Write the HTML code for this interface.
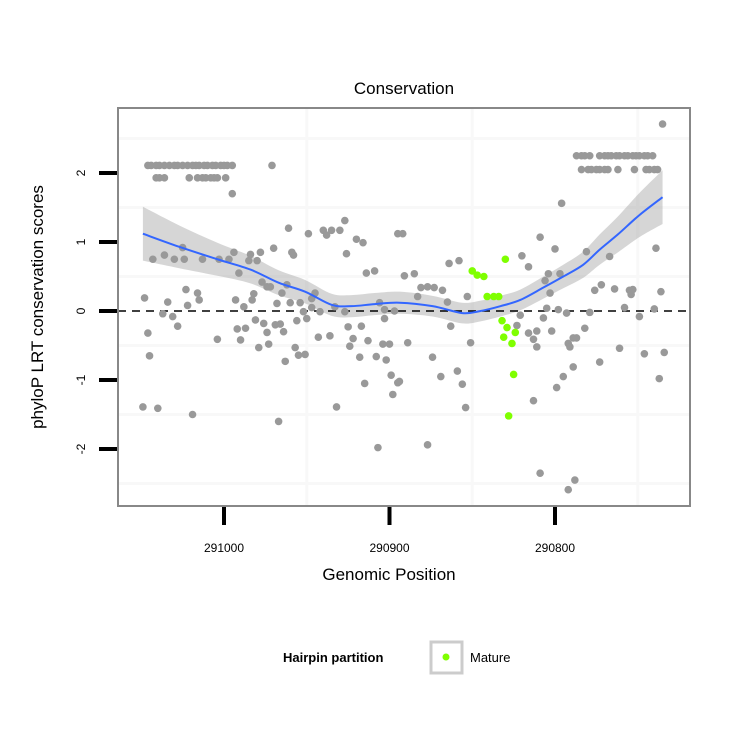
<!DOCTYPE html>
<html><head><meta charset="utf-8"><style>
body{margin:0;background:#fff;}
svg text{font-family:"Liberation Sans",sans-serif;}
</style></head><body>
<svg id="chart" width="750" height="750" viewBox="0 0 750 750" xmlns="http://www.w3.org/2000/svg">
<rect width="750" height="750" fill="#fff"/>
<text x="404" y="94" font-size="17" text-anchor="middle">Conservation</text>
<g id="grid"></g>
<g id="band"></g>
<line x1="118" y1="311" x2="690" y2="311" stroke="#000" stroke-width="1.5" stroke-dasharray="8,6"/>
<g id="pts"></g>
<g id="fit"></g>
<rect x="118" y="108" width="572" height="398" fill="none" stroke="#888" stroke-width="2"/>
<g id="axes"></g>
<text x="389" y="580" font-size="17" text-anchor="middle">Genomic Position</text>
<text transform="translate(43,307) rotate(-90)" font-size="17" text-anchor="middle">phyloP LRT conservation scores</text>
<g>
<text x="283" y="662" font-size="13" font-weight="bold">Hairpin partition</text>
<rect x="431" y="642" width="31" height="31" fill="#fff" stroke="#ccc" stroke-width="3"/>
<circle cx="446" cy="657" r="3.5" fill="#7fff00"/>
<text x="470" y="662" font-size="13">Mature</text>
</g>
</svg>
<script>
const grayPos=[291048,291046,291045,291049,291040,291043,291036,291030,291024,291025,291034,291037,291031,291028,291023,291022,291016,291015,291019,291013,291004,291003,290997,290994,290991,290993,290992,290990,290988,290987,290985,290984,290980,290978,290982,290983,290981,290979,290976,290974,290973,290977,290974,290972,290970,290968,290969,290966,290964,290965,290962,290967,290963,290961,290959,290958,290960,290957,290955,290951,290956,290954,290952,290950,290949,290947,290945,290947,290942,290943,290936,290932,290940,290935,290930,290938,290927,290933,290927,290925,290922,290924,290920,290916,290926,290917,290918,290915,290913,290914,290909,290908,290907,290906,290903,290903,290904,290900,290902,290899,290895,290898,290895,290892,290891,290889,290897,
290885,290894,290883,290881,290877,290873,290868,290874,290869,290877,290865,290863,290864,290858,290859,290856,290854,290853,290851,
290823,290820,290816,290821,290816,290811,290813,290811,290813,290809,290809,290807,290806,290804,290803,290805,290800,290802,290798,290797,290793,290796,290792,290791,290789,290787,290799,290795,290789,290788,290792,290782,290779,290776,290772,290781,290773,290767,290764,290761,290758,290755,290753,290754,290749,290746,290740,290739,290736,290734,290737,290735,
291046,291044,291041,291039,291036,291033,291030,291028,291025,291022,291019,291017,291015,291012,291010,291007,291005,291002,291000,290998,290995,290971,
291041,291039,291036,291021,291016,291013,291011,291008,291006,291004,290999,290995,
290787,290784,290782,290779,290773,290770,290768,290766,290763,290761,290758,290756,290753,290751,290749,290746,290744,290741,
290784,290780,290778,290775,290773,290770,290768,290762,290752,290745,290743,290740,290738];
const grayScore=[0.19,-0.32,-0.65,-1.39,-1.41,0.75,0.81,0.75,0.75,0.92,0.13,-0.04,-0.08,-0.22,0.31,0.08,0.26,0.16,-1.50,0.75,-0.41,0.75,0.75,0.85,0.55,0.16,-0.26,-0.42,0.06,-0.25,0.73,0.82,0.73,0.85,0.25,0.16,-0.13,-0.53,-0.18,-0.31,-0.48,0.42,0.35,0.35,0.91,0.11,-0.20,-0.19,-0.30,0.26,0.38,-1.60,-0.73,1.20,0.85,0.81,0.12,-0.53,-0.64,-0.63,-0.14,0.12,-0.01,-0.11,1.12,0.05,0.26,0.18,-0.01,-0.38,-0.36,-1.39,1.17,1.17,1.17,1.10,1.31,0.06,-0.01,-0.23,-0.40,-0.51,1.04,0.99,0.83,-0.22,-0.67,-1.05,-0.43,0.55,0.58,-0.66,-1.98,0.12,0.02,-0.11,-0.48,-0.48,-0.71,-0.93,-1.04,-1.21,1.12,1.12,0.51,-0.46,0.00,
0.54,-1.02,0.21,0.34,0.35,0.34,0.30,-0.67,-0.95,-1.94,0.13,-0.22,0.69,0.73,-0.87,-1.06,-1.40,0.21,-0.46,
-0.21,0.80,0.64,-0.06,-0.32,-0.29,-0.41,-0.52,-1.30,-2.35,1.07,-0.10,0.44,0.54,0.26,0.04,0.90,-0.29,0.02,0.54,-0.03,1.56,-0.47,-0.52,-0.39,-0.39,-1.11,-0.95,-0.81,-2.45,-2.59,-0.25,-0.02,0.30,0.38,0.86,-0.74,0.79,0.32,-0.54,0.05,0.30,0.31,0.24,-0.08,-0.62,0.03,0.91,0.28,-0.60,-0.98,2.71,
2.11,2.11,2.11,2.11,2.11,2.11,2.11,2.11,2.11,2.11,2.11,2.11,2.11,2.11,2.11,2.11,2.11,2.11,2.11,2.11,2.11,2.11,
1.93,1.93,1.93,1.93,1.93,1.93,1.93,1.93,1.93,1.93,1.93,1.70,
2.25,2.25,2.25,2.25,2.25,2.25,2.25,2.25,2.25,2.25,2.25,2.25,2.25,2.25,2.25,2.25,2.25,2.25,
2.05,2.05,2.05,2.05,2.05,2.05,2.05,2.05,2.05,2.05,2.05,2.05,2.05];
const maturePos=[290850,290847,290843,290841,290837,290834,290830,290832,290829,290824,290831,290826,290825,290828];
const matureScore=[0.58,0.52,0.50,0.21,0.21,0.21,0.75,-0.14,-0.24,-0.31,-0.38,-0.47,-0.92,-1.52];
const fitPos=[291049,291027,291004,290984,290967,290951,290935,290923,290909,290894,290874,290856,290845,290833,290821,290807,290795,290783,290773,290762,290749,290735];
const fitScore=[1.12,0.93,0.75,0.60,0.41,0.28,0.09,0.07,0.10,0.12,0.07,-0.03,0.00,0.07,0.16,0.34,0.50,0.67,0.89,1.11,1.39,1.65];
const fitSe=[0.39,0.31,0.24,0.20,0.18,0.17,0.16,0.16,0.16,0.16,0.15,0.15,0.15,0.15,0.15,0.16,0.17,0.19,0.22,0.26,0.32,0.39];
const xTicks=[291000,290900,290800];
const yTicks=[-2,-1,0,1,2];
const xGrid=[290950,290850,290750];
const yGrid=[-2.5,-1.5,-0.5,0.5,1.5,2.5];

const NS='http://www.w3.org/2000/svg';
function X(p){return 224+(291000-p)*1.655;}
function Y(s){return 311-s*69;}
function mk(tag,attrs,parent){const e=document.createElementNS(NS,tag);for(const k in attrs)e.setAttribute(k,attrs[k]);parent.appendChild(e);return e;}
function smooth(pts){let d='M'+pts[0][0]+','+pts[0][1];for(let i=0;i<pts.length-1;i++){const p0=pts[Math.max(0,i-1)],p1=pts[i],p2=pts[i+1],p3=pts[Math.min(pts.length-1,i+2)];
d+=' C'+(p1[0]+(p2[0]-p0[0])/6)+','+(p1[1]+(p2[1]-p0[1])/6)+' '+(p2[0]-(p3[0]-p1[0])/6)+','+(p2[1]-(p3[1]-p1[1])/6)+' '+p2[0]+','+p2[1];}return d;}
const grid=document.getElementById('grid');
xGrid.forEach(v=>{const l=mk('line',{x1:X(v),x2:X(v),y1:108,y2:506,stroke:'#f8f8f8','stroke-width':3},grid);

});
yGrid.forEach(v=>{const l=mk('line',{x1:118,x2:690,y1:Y(v),y2:Y(v),stroke:'#f8f8f8','stroke-width':3},grid);

});
const upPts=fitPos.map((p,i)=>[X(p),Y(fitScore[i]+fitSe[i])]);
const loPts=fitPos.map((p,i)=>[X(p),Y(fitScore[i]-fitSe[i])]).reverse();
const band=mk('path',{d:smooth(upPts)+' L'+smooth(loPts).slice(1)+' Z',fill:'#999','fill-opacity':0.4},document.getElementById('band'));


const pts=document.getElementById('pts');
grayPos.forEach((p,i)=>{const c=mk('circle',{cx:X(p),cy:Y(grayScore[i]),r:3.8,fill:'#999'},pts);

});
maturePos.forEach((p,i)=>{const c=mk('circle',{cx:X(p),cy:Y(matureScore[i]),r:3.8,fill:'#7fff00'},pts);

});
const fl=mk('path',{d:smooth(fitPos.map((p,i)=>[X(p),Y(fitScore[i])])),fill:'none',stroke:'#3366ff','stroke-width':2},document.getElementById('fit'));


const axes=document.getElementById('axes');
xTicks.forEach(v=>{const t=mk('line',{x1:X(v),x2:X(v),y1:507,y2:525,stroke:'#000','stroke-width':4},axes);


const tx=mk('text',{x:X(v),y:552,'font-size':12,'text-anchor':'middle'},axes);tx.textContent=v;

});
yTicks.forEach(v=>{const t=mk('line',{x1:99,x2:117,y1:Y(v),y2:Y(v),stroke:'#000','stroke-width':4},axes);


const tx=mk('text',{transform:'translate(85,'+Y(v)+') rotate(-90)','font-size':12,'text-anchor':'middle'},axes);tx.textContent=v;

});
</script>
</body></html>
